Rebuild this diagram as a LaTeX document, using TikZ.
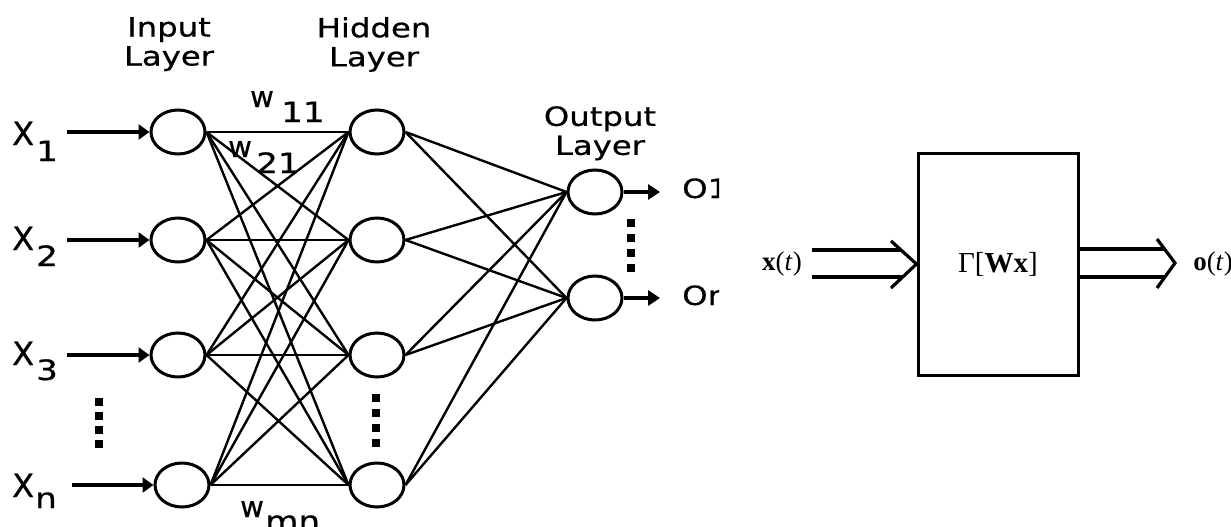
\documentclass[tikz,border=0pt]{standalone}
\usepackage{fontspec}
\setmainfont{Liberation Serif}
\newfontfamily\dvs[FakeStretch=1.22,FakeBold=0.6]{DejaVu Sans}
\newfontfamily\dvn[FakeBold=0.6]{DejaVu Sans}
\usetikzlibrary{arrows.meta,shapes.geometric}
\tikzset{
  neuron/.style={ellipse, draw, line width=3pt, minimum width=54pt, minimum height=44pt, inner sep=0pt},
  conn/.style={line width=2.4pt},
  inarrow/.style={line width=4.5pt, -{Triangle[length=11pt,width=15pt]}},
  outarrow/.style={line width=3.5pt, -{Triangle[length=12pt,width=15pt]}},
  hdr/.style={font=\dvs\fontsize{26.5}{29}\selectfont, align=center, inner sep=0pt},
  xlab/.style={font=\dvn\fontsize{32}{32}\selectfont, inner sep=0pt, anchor=base west},
  sublab/.style={font=\dvs\fontsize{28}{28}\selectfont, inner sep=0pt, anchor=base west},
  wlab/.style={font=\dvn\fontsize{29}{29}\selectfont, inner sep=0pt, anchor=base west},
  dotsq/.style={fill=black},
  dblline/.style={line width=3.2pt},
  serlab/.style={font=\fontsize{27}{27}\selectfont, inner sep=0pt},
}
\begin{document}
\begin{tikzpicture}[x=1pt,y=-1pt]
\useasboundingbox (0,0) rectangle (1231,527);
\begin{scope}
\clip (0,0) rectangle (719,527);
% neurons
\node[neuron] (i1) at (178,132) {};
\node[neuron] (i2) at (178,240) {};
\node[neuron] (i3) at (178,355) {};
\node[neuron] (i4) at (182,485) {};
\node[neuron] (h1) at (377,132) {};
\node[neuron] (h2) at (377,240) {};
\node[neuron] (h3) at (377,355) {};
\node[neuron] (h4) at (377,485) {};
\node[neuron] (o1) at (595,192) {};
\node[neuron] (o2) at (595,298) {};
% connections
\foreach \i in {1,...,4}{
  \foreach \j in {1,...,4}{
    \draw[conn] (i\i.east) -- (h\j.west);
  }
  \foreach \j in {1,2}{
    \draw[conn] (h\i.east) -- (o\j.west);
  }
}
% input arrows
\coordinate (s1) at (67,132);
\coordinate (s2) at (67,240);
\coordinate (s3) at (67,355);
\coordinate (s4) at (72,485);
\foreach \i in {1,...,4}{\draw[inarrow] (s\i) -- (i\i.west);}
% output arrows
\coordinate (e1) at (660,192);
\coordinate (e2) at (660,298);
\draw[outarrow] (o1.east) -- (e1);
\draw[outarrow] (o2.east) -- (e2);
% dots
\foreach \y in {402,416,430,444}{\fill[dotsq] (94.5,\y-4) rectangle (102.5,\y+4);}
\foreach \y in {398,413,428,443}{\fill[dotsq] (371.5,\y-4) rectangle (379.5,\y+4);}
\foreach \y in {223,238,253,268}{\fill[dotsq] (626.5,\y-4) rectangle (634.5,\y+4);}
% headers
\node[hdr, anchor=north] (tin) at (169,17) {Input\\Layer};
\node[hdr, anchor=north] (thid) at (374,17) {Hidden\\Layer};
\node[hdr, anchor=north] (tout) at (600,106) {Output\\Layer};
% input labels
\node[xlab] (x1) at (12,145) {X};
\node[sublab] (x1s) at (36,161) {1};
\node[xlab] (x2) at (12,250) {X};
\node[sublab] (x2s) at (36,266) {2};
\node[xlab] (x3) at (12,365) {X};
\node[sublab] (x3s) at (36,380) {3};
\node[xlab] (x4) at (12,497) {X};
\node[sublab] (x4s) at (35,508) {n};
% output labels
\node[hdr, anchor=base west] (ol1) at (682,198) {O1};
\node[hdr, anchor=base west] (ol2) at (682,305) {Om};
% weights
\node[wlab] (w1) at (250,107) {w};
\node[sublab] (w1s) at (281,122) {11};
\node[wlab] (w2) at (228,157) {w};
\node[sublab] (w2s) at (256,173) {21};
\node[wlab] (w3) at (240,517) {w};
\node[sublab] (w3s) at (265,531) {mn};
\end{scope}
% right block diagram
\node[draw, line width=3pt, minimum width=160pt, minimum height=222pt, inner sep=0pt,
      font=\fontsize{29}{29}\selectfont] (box) at (998,264) {Γ[\textbf{Wx}]};
\node[serlab] (xt) at (782,264) {\textbf{x}(\textit{t})};
\node[serlab] (ot) at (1213,264) {\textbf{o}(\textit{t})};
% input double arrow
\coordinate (a1) at (812,250);
\coordinate (a2) at (812,277);
\coordinate (b1) at (901,250);
\coordinate (b2) at (903,277);
\coordinate (ca) at (891,241);
\coordinate (cb) at (891,288);
\draw[dblline] (a1) -- (b1);
\draw[dblline] (a2) -- (b2);
\draw[dblline, line join=miter] (ca) -- (box.west) -- (cb);
% output double arrow
\coordinate (c1) at (box.east |- 0,249);
\coordinate (c2) at (box.east |- 0,277);
\coordinate (d1) at (1165,249);
\coordinate (d2) at (1165,277);
\coordinate (tip) at (1175,263);
\coordinate (da) at (1157,239);
\coordinate (db) at (1157,288);
\draw[dblline] (c1) -- (d1);
\draw[dblline] (c2) -- (d2);
\draw[dblline, line join=miter] (da) -- (tip) -- (db);
\end{tikzpicture}
\end{document}
